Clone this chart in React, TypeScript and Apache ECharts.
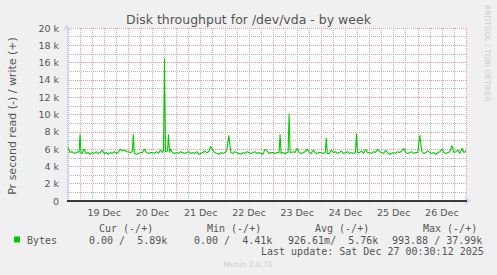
import React, { useEffect, useRef } from 'react';
import * as echarts from 'echarts';

const chartTitle = 'Disk throughput for /dev/vda - by week';
const yAxisName = 'Pr second read (-) / write (+)';
const dayLabels = ['19 Dec', '20 Dec', '21 Dec', '22 Dec', '23 Dec', '24 Dec', '25 Dec', '26 Dec'];
// hours relative to 19 Dec 00:00
const xMin = -6.5;
const xMax = 192.5;
const startHour = -6;
// write throughput (k bytes/s), one value per hour from startHour
const hourlyWrite = [
  6.2, 5.6, 5.7, 5.5, 5.6, 5.7,
  5.6, 5.5, 6.0, 5.5, 5.6, 5.4, 5.6, 5.5, 5.7, 5.5, 5.6, 5.9, 5.5, 5.6, 5.4, 5.6, 5.5, 5.7, 5.5, 5.6, 6.0, 5.8, 5.9, 5.7,
  5.7, 5.6, 5.8, 5.6, 5.4, 5.5, 5.6, 5.6, 6.0, 5.6, 5.5, 5.6, 5.6, 5.5, 5.7, 5.5, 5.9, 5.6, 5.7, 5.7, 5.6, 6.0, 5.6, 5.5,
  5.6, 5.5, 5.7, 5.6, 5.5, 5.6, 5.7, 5.5, 5.6, 5.5, 5.7, 5.4, 5.5, 5.6, 5.8, 5.6, 5.7, 6.3, 5.9, 5.6, 5.5, 5.4, 5.6, 5.5,
  5.6, 5.8, 5.6, 5.6, 5.5, 5.7, 5.6, 5.5, 5.4, 5.6, 5.5, 5.7, 5.6, 5.5, 5.6, 5.7, 5.5, 5.6, 5.5, 5.4, 6.0, 5.8, 5.5, 5.6,
  5.6, 5.5, 5.6, 5.5, 5.7, 5.6, 5.5, 5.6, 5.6, 5.6, 5.7, 5.6, 6.1, 5.6, 5.5, 5.6, 5.7, 6.0, 5.6, 5.5, 5.9, 5.6, 5.5, 5.6,
  5.6, 5.5, 5.6, 5.6, 5.5, 5.9, 5.6, 5.7, 5.5, 5.6, 5.8, 5.5, 5.6, 5.7, 5.5, 5.6, 5.5, 5.6, 5.7, 5.6, 5.8, 5.5, 6.0, 5.6,
  5.6, 5.5, 5.7, 5.6, 6.0, 5.7, 5.6, 5.5, 5.9, 5.6, 5.4, 5.5, 5.6, 5.5, 5.7, 5.6, 5.8, 6.1, 5.6, 5.5, 5.6, 5.7, 5.5, 5.6,
  5.6, 5.6, 5.7, 5.5, 5.6, 5.8, 5.6, 5.5, 5.6, 5.4, 5.6, 5.7, 6.0, 5.6, 5.5, 5.6, 5.7, 6.4, 5.6, 5.7, 5.9, 5.5, 6.1, 5.6, 5.8,
];
const spikeHours = [-0.5, 0, 0.5, 26, 26.5, 27, 41.5, 42, 42.5, 43.5, 44, 44.5, 74, 99, 99.5, 100, 103.5, 104, 104.5, 122, 122.5, 123, 137, 137.5, 138, 169];
const spikeWrite = [5.6, 7.7, 5.5, 5.7, 7.7, 5.5, 5.8, 16.5, 5.7, 5.8, 7.7, 5.6, 7.6, 5.6, 7.7, 5.5, 5.6, 10.1, 5.6, 5.6, 7.3, 5.5, 5.6, 7.8, 5.6, 7.6];

const seriesName = 'Bytes';
const legendHeaders = ['Cur (-/+)', 'Min (-/+)', 'Avg (-/+)', 'Max (-/+)'];
const legendValues = ['0.00 /  5.89k', '0.00 /  4.41k', '926.61m/  5.76k', '993.88 / 37.99k'];
const lastUpdate = 'Last update: Sat Dec 27 00:30:12 2025';
const footer = 'Munin 2.0.76';
const watermark = 'RRDTOOL / TOBI OETIKER';

const GREEN = '#00cc00';
const RED_GRID = '#e69a9a';
const GRAY_GRID = '#b4b4b4';
const AXIS = '#cfd6f8';
const FONT = '#555555';

export default function App() {
  const ref = useRef<HTMLDivElement>(null);
  useEffect(() => {
    if (!ref.current) return;
    const chart = echarts.init(ref.current, undefined, { renderer: 'svg' });

    const pts = new Map<number, number>();
    hourlyWrite.forEach((v, i) => pts.set(startHour + i, v));
    spikeHours.forEach((h, i) => pts.set(h, spikeWrite[i]));
    const data = Array.from(pts.entries()).sort((a, b) => a[0] - b[0]);

    // split lines every 30 min from xMin: midnight red, 06/12/18 h gray, others hidden
    const xColors: string[] = [];
    for (let i = 0; i < 48; i++) {
      xColors.push(i === 13 ? RED_GRID : i === 1 || i === 25 || i === 37 ? GRAY_GRID : 'rgba(255,255,255,0)');
    }

    const legendX = [99, 207, 315, 423];
    const valueX = [89, 194, 288, 392];
    const mono = 'DejaVu Sans Mono';

    const graphics: any[] = [
      {
        type: 'text', x: 12, y: 116, rotation: Math.PI / 2,
        style: { text: yAxisName, fill: FONT, font: '11px "DejaVu Sans"', textAlign: 'center', textVerticalAlign: 'middle' },
      },
      {
        type: 'text', x: 487.5, y: 5, rotation: -Math.PI / 2,
        style: { text: watermark, fill: '#cccccc', font: '7.5px "DejaVu Sans"', textAlign: 'left', textVerticalAlign: 'middle' },
      },
      { type: 'rect', shape: { x: 14, y: 236.5, width: 6, height: 6 }, style: { fill: GREEN } },
      {
        type: 'text', x: 27, y: 240,
        style: { text: seriesName, fill: FONT, font: `10px "${mono}"`, textAlign: 'left', textVerticalAlign: 'middle' },
      },
      {
        type: 'text', x: 261, y: 251.5,
        style: { text: lastUpdate, fill: FONT, font: `10px "${mono}"`, textAlign: 'left', textVerticalAlign: 'middle' },
      },
      {
        type: 'text', x: 248, y: 264.5,
        style: { text: footer, fill: '#cccccc', font: '7.5px "DejaVu Sans"', textAlign: 'center', textVerticalAlign: 'middle' },
      },
    ];
    legendHeaders.forEach((t, i) => {
      graphics.push({
        type: 'text', x: legendX[i], y: 228,
        style: { text: t, fill: FONT, font: `10px "${mono}"`, textAlign: 'left', textVerticalAlign: 'middle' },
      });
    });
    legendValues.forEach((t, i) => {
      graphics.push({
        type: 'text', x: valueX[i], y: 240,
        style: { text: t, fill: FONT, font: `10px "${mono}"`, textAlign: 'left', textVerticalAlign: 'middle' },
      });
    });

    chart.setOption({
      animation: false,
      backgroundColor: '#f0f0f0',
      title: {
        text: chartTitle,
        left: 'center',
        top: 8,
        textStyle: { fontFamily: 'DejaVu Sans', fontSize: 12.5, fontWeight: 'normal', color: FONT },
      },
      grid: { left: 67, top: 28, width: 400, height: 173, show: true, backgroundColor: '#ffffff', borderWidth: 0 },
      xAxis: {
        type: 'value',
        min: xMin,
        max: xMax,
        interval: 0.5,
        axisLine: {
          show: true, onZero: false,
          lineStyle: { color: AXIS, width: 1 },
          symbol: ['none', 'arrow'], symbolSize: [7, 7], symbolOffset: [0, 4],
        },
        axisTick: { show: false },
        axisLabel: {
          margin: 6,
          color: FONT,
          fontFamily: 'DejaVu Sans',
          fontSize: 9.5,
          formatter: (v: number) => {
            const d = (v - 12) / 24;
            const r = Math.round(d);
            if (Math.abs(d - r) < 1e-6 && r >= 0 && r < dayLabels.length) return dayLabels[r];
            return '';
          },
        },
        splitLine: { show: true, lineStyle: { color: xColors, type: [1, 1], width: 1 } },
      },
      yAxis: {
        type: 'value',
        min: 0,
        max: 20,
        interval: 1,
        axisLine: {
          show: true, onZero: false,
          lineStyle: { color: AXIS, width: 1 },
          symbol: ['none', 'arrow'], symbolSize: [7, 7], symbolOffset: [0, 4],
        },
        axisTick: { show: false },
        axisLabel: {
          margin: 8,
          color: FONT,
          fontFamily: 'DejaVu Sans',
          fontSize: 9.5,
          formatter: (v: number) => (v % 2 === 0 ? (v === 0 ? '0' : `${v} k`) : ''),
        },
        splitLine: { show: true, lineStyle: { color: [RED_GRID, GRAY_GRID], type: [1, 1], width: 1 } },
      },
      graphic: graphics,
      series: [
        {
          name: seriesName,
          type: 'line',
          data,
          showSymbol: false,
          symbol: 'none',
          lineStyle: { color: GREEN, width: 1.1 },
          itemStyle: { color: GREEN },
          z: 3,
          markLine: {
            silent: true,
            symbol: 'none',
            label: { show: false },
            lineStyle: { color: '#000000', width: 1.5, type: 'solid' },
            data: [{ yAxis: 0 }],
          },
        },
      ],
    });
    return () => chart.dispose();
  }, []);
  return <div ref={ref} style={{ position: 'fixed', left: 0, top: 0, width: 497, height: 275 }} />;
}
